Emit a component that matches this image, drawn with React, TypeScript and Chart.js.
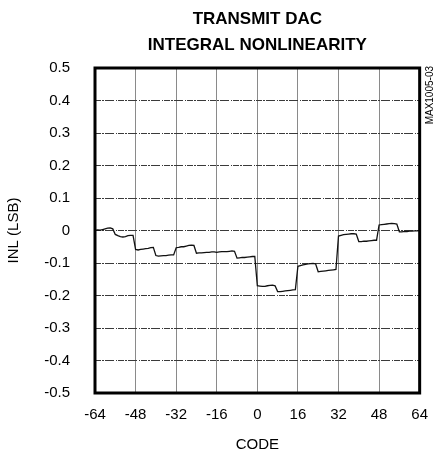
import React, { useEffect, useRef } from "react";
import { Chart, registerables } from "chart.js";

Chart.register(...registerables);

// ---- data ----
const START_CODE = -64;
// INL (LSB) for each code from -64 to 64
const INL_LSB = [
  0.0, 0.002, 0.001, 0.003, 0.005, 0.007, 0.008, 0.005,
  -0.012, -0.016, -0.019, -0.02, -0.019, -0.016, -0.015, -0.015,
  -0.058, -0.06, -0.058, -0.057, -0.056, -0.055, -0.053, -0.052,
  -0.077, -0.079, -0.078, -0.077, -0.077, -0.076, -0.075, -0.075,
  -0.053, -0.052, -0.05, -0.05, -0.048, -0.046, -0.045, -0.046,
  -0.07, -0.069, -0.069, -0.068, -0.067, -0.067, -0.066, -0.066,
  -0.067, -0.066, -0.065, -0.065, -0.065, -0.064, -0.063, -0.064,
  -0.085, -0.084, -0.083, -0.083, -0.082, -0.081, -0.08, -0.08,
  -0.17, -0.171, -0.172, -0.172, -0.17, -0.169, -0.168, -0.17,
  -0.188, -0.188, -0.187, -0.186, -0.185, -0.184, -0.183, -0.182,
  -0.11, -0.108, -0.106, -0.104, -0.103, -0.102, -0.101, -0.103,
  -0.127, -0.126, -0.125, -0.124, -0.123, -0.122, -0.121, -0.12,
  -0.017, -0.015, -0.013, -0.012, -0.011, -0.01, -0.01, -0.011,
  -0.034, -0.034, -0.033, -0.033, -0.032, -0.031, -0.03, -0.03,
  0.017, 0.018, 0.019, 0.02, 0.021, 0.022, 0.021, 0.02,
  -0.004, -0.004, -0.003, -0.003, -0.002, -0.002, -0.001, -0.001, 0.0,
];
const X_TICKS = [-64, -48, -32, -16, 0, 16, 32, 48, 64];
const Y_TICKS = [-0.5, -0.4, -0.3, -0.2, -0.1, 0, 0.1, 0.2, 0.3, 0.4, 0.5];
const Y_TICK_LABELS = ["-0.5", "-0.4", "-0.3", "-0.2", "-0.1", "0", "0.1", "0.2", "0.3", "0.4", "0.5"];
const TITLE_LINES = ["TRANSMIT DAC", "INTEGRAL NONLINEARITY"];
const X_TITLE = "CODE";
const Y_TITLE = "INL (LSB)";
const SIDE_LABEL = "MAX1005-03";

const SANS = '"Liberation Sans", Arial, sans-serif';

const decorPlugin = {
  id: "decor",
  afterDraw(chart: any) {
    const { ctx, chartArea } = chart;
    const { left, top, right, bottom } = chartArea;
    ctx.save();
    // frame
    ctx.strokeStyle = "#000";
    ctx.lineWidth = 3;
    ctx.strokeRect(left, top, right - left, bottom - top);
    // title
    ctx.fillStyle = "#000";
    ctx.font = `bold 17px ${SANS}`;
    ctx.textAlign = "center";
    ctx.textBaseline = "alphabetic";
    const cx = (left + right) / 2;
    ctx.fillText(TITLE_LINES[0], cx, 24);
    ctx.fillText(TITLE_LINES[1], cx, 50);
    // side label
    ctx.translate(right + 11, top - 2);
    ctx.rotate(-Math.PI / 2);
    ctx.font = `10px ${SANS}`;
    ctx.textAlign = "right";
    ctx.textBaseline = "middle";
    ctx.fillText(SIDE_LABEL, 0, 0);
    ctx.restore();
  },
};

export default function App() {
  const ref = useRef<HTMLCanvasElement | null>(null);
  useEffect(() => {
    if (!ref.current) return;
    const points = INL_LSB.map((y, i) => ({ x: START_CODE + i, y }));
    const chart = new Chart(ref.current, {
      type: "line",
      data: {
        datasets: [
          {
            data: points,
            borderColor: "#111",
            borderWidth: 1.3,
            pointRadius: 0,
            tension: 0,
            fill: false,
          },
        ],
      },
      options: {
        responsive: false,
        animation: false,
        layout: { padding: { top: 68, right: 20, left: 0, bottom: 0 } },
        plugins: { legend: { display: false }, tooltip: { enabled: false }, title: { display: false } },
        scales: {
          x: {
            type: "linear",
            min: -64,
            max: 64,
            afterBuildTicks: (s: any) => {
              s.ticks = X_TICKS.map((v) => ({ value: v }));
            },
            afterFit: (s: any) => {
              s.height = 64;
            },
            ticks: {
              color: "#000",
              font: { family: SANS, size: 15 },
              padding: 13,
              maxRotation: 0,
              autoSkip: false,
              callback: (v: any) => String(v),
            },
            grid: { color: "#8a8a8a", lineWidth: 1, drawTicks: false },
            border: { display: false },
            title: {
              display: true,
              text: X_TITLE,
              color: "#000",
              font: { family: SANS, size: 15 },
              padding: { top: 0, bottom: 3 },
            },
          },
          y: {
            type: "linear",
            min: -0.5,
            max: 0.5,
            afterBuildTicks: (s: any) => {
              s.ticks = Y_TICKS.map((v) => ({ value: v }));
            },
            afterFit: (s: any) => {
              s.width = 95;
            },
            ticks: {
              color: "#000",
              font: { family: SANS, size: 15 },
              padding: 25,
              autoSkip: false,
              callback: (v: any) => {
                const idx = Y_TICKS.findIndex((t) => Math.abs(t - Number(v)) < 1e-6);
                return idx >= 0 ? Y_TICK_LABELS[idx] : "";
              },
            },
            grid: { color: "#3a3a3a", lineWidth: 1, drawTicks: false },
            border: { display: false, dash: [6, 1, 2, 1, 9, 2, 1, 1] },
            title: {
              display: true,
              text: Y_TITLE,
              color: "#000",
              font: { family: SANS, size: 15 },
              padding: { top: 5, bottom: 0 },
            },
          },
        },
      },
      plugins: [decorPlugin],
    } as any);
    return () => chart.destroy();
  }, []);
  return (
    <div style={{ position: "fixed", left: 0, top: 0, width: 441, height: 457, background: "#fff" }}>
      <canvas ref={ref} width={441} height={457} style={{ display: "block" }} />
    </div>
  );
}
